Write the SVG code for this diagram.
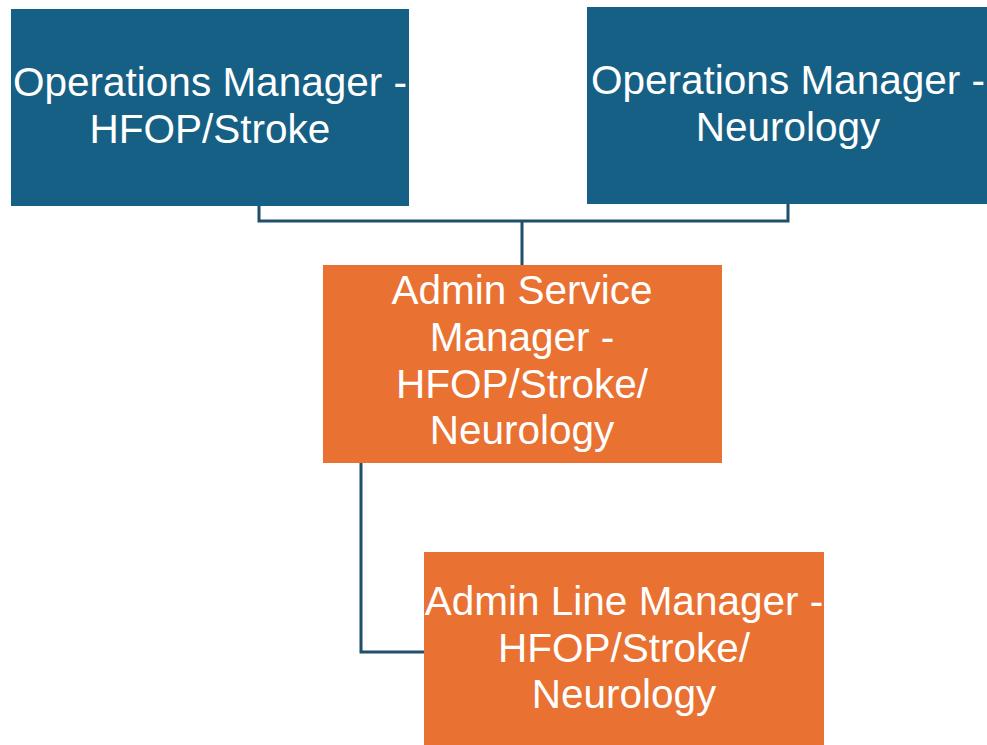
<svg xmlns="http://www.w3.org/2000/svg" width="987" height="745" viewBox="0 0 987 745">
<style>
.blue{fill:#176085}
.orange{fill:#E97132}
.lbl{font-family:"Liberation Sans",Arial,sans-serif;font-size:40.5px;fill:#ffffff;text-anchor:middle}
.conn{fill:none;stroke:#1f4f6b;stroke-width:3}
</style>
<rect width="987" height="745" fill="#ffffff"/>
<g id="connectors">
<path class="conn" d="M259 206 V221 H788 V204"/>
<path class="conn" d="M522 221 V265"/>
<path class="conn" d="M361 463 V652 H424"/>
</g>
<g id="ops-hfop">
<rect class="blue" x="11" y="9" width="398" height="197"/>
<text class="lbl" x="210" y="96">Operations Manager -</text>
<text class="lbl" x="210" y="143">HFOP/Stroke</text>
</g>
<g id="ops-neuro">
<rect class="blue" x="587" y="7" width="402" height="197"/>
<text class="lbl" x="788" y="94">Operations Manager -</text>
<text class="lbl" x="788" y="141">Neurology</text>
</g>
<g id="admin-service">
<rect class="orange" x="323" y="265" width="399" height="198"/>
<text class="lbl" x="522" y="304">Admin Service</text>
<text class="lbl" x="522" y="351">Manager -</text>
<text class="lbl" x="522" y="398">HFOP/Stroke/</text>
<text class="lbl" x="522" y="444">Neurology</text>
</g>
<g id="admin-line">
<rect class="orange" x="424" y="552" width="400" height="195"/>
<text class="lbl" x="624" y="615">Admin Line Manager -</text>
<text class="lbl" x="624" y="662">HFOP/Stroke/</text>
<text class="lbl" x="624" y="708">Neurology</text>
</g>
</svg>
